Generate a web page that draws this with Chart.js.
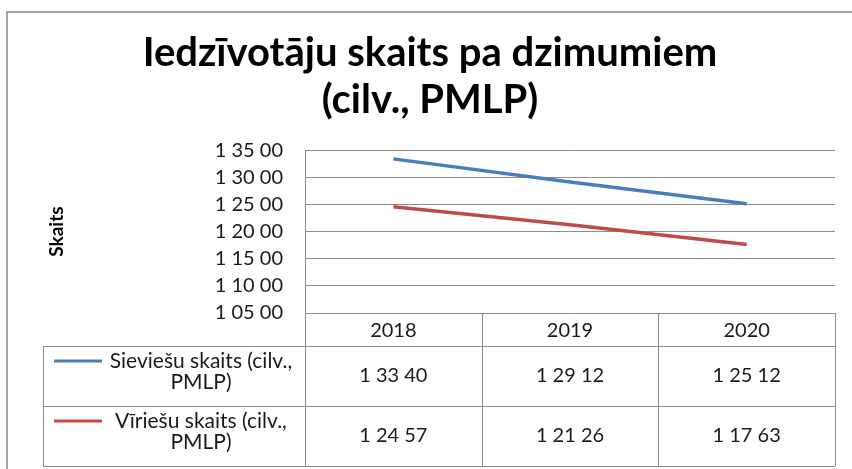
<!DOCTYPE html>
<html>
<head>
<meta charset="utf-8">
<script src="https://cdn.jsdelivr.net/npm/chart.js@4.4.0/dist/chart.umd.min.js"></script>
<style>
    html, body { margin: 0; padding: 0; background: #fff; }
    #wrap { width: 852px; height: 469px; }
</style>
</head>
<body>
<div id="wrap"><canvas id="chart" width="852" height="469"></canvas></div>
<script>
// Dati
const years = ['2018', '2019', '2020'];
const sieviesu = [13340, 12912, 12512];
const viriesu = [12457, 12126, 11763];
const seriesNames = [['Sieviešu skaits (cilv.,', 'PMLP)'], ['Vīriešu skaits (cilv.,', 'PMLP)']];
const seriesColors = ['#4a7ebb', '#be4b48'];
const yTicks = [10500, 11000, 11500, 12000, 12500, 13000, 13500];
const titleLines = ['Iedzīvotāju skaits pa dzimumiem', '(cilv., PMLP)'];
const yTitle = 'Skaits';

const FONT = 'Lato, "Open Sans", sans-serif';
const GRID = '#8c8c8c';

// 13500 -> "1 35 00"
function fmt(v) {
    return String(v).replace(/\B(?=(\d{2})+(?!\d))/g, ' ');
}

// outer frame of the chart object
const framePlugin = {
    id: 'frame',
    beforeDraw(chart) {
        const ctx = chart.ctx;
        ctx.save();
        ctx.strokeStyle = '#868686';
        ctx.lineWidth = 1.5;
        ctx.beginPath();
        ctx.moveTo(7, chart.height);
        ctx.lineTo(7, 12);
        ctx.lineTo(chart.width, 12);
        ctx.stroke();
        ctx.restore();
    }
};

// data table under the plot (Excel style)
const tablePlugin = {
    id: 'dataTable',
    afterDraw(chart) {
        const ctx = chart.ctx;
        const area = chart.chartArea;
        const x = chart.scales.x;
        const colW = x.width / years.length;
        const tableLeft = 43;
        const headerBottom = 346;
        const rowH = 60;
        const tableBottom = headerBottom + rowH * 2;

        ctx.save();
        ctx.strokeStyle = GRID;
        ctx.lineWidth = 1;

        // horizontal lines
        [headerBottom, headerBottom + rowH, tableBottom].forEach(y => {
            ctx.beginPath();
            ctx.moveTo(tableLeft, y + 0.5);
            ctx.lineTo(area.right, y + 0.5);
            ctx.stroke();
        });
        // vertical lines
        ctx.beginPath();
        ctx.moveTo(tableLeft + 0.5, headerBottom);
        ctx.lineTo(tableLeft + 0.5, tableBottom);
        ctx.stroke();
        for (let i = 0; i <= years.length; i++) {
            const px = Math.round(area.left + colW * i) + 0.5;
            ctx.beginPath();
            ctx.moveTo(px, area.bottom);
            ctx.lineTo(px, tableBottom);
            ctx.stroke();
        }

        const series = [sieviesu, viriesu];
        series.forEach((vals, r) => {
            const rowTop = headerBottom + rowH * r;
            const mid = rowTop + rowH / 2;

            // legend key
            ctx.strokeStyle = seriesColors[r];
            ctx.lineWidth = 3;
            ctx.beginPath();
            ctx.moveTo(54, rowTop + 15);
            ctx.lineTo(102, rowTop + 15);
            ctx.stroke();

            ctx.fillStyle = '#1a1a1a';
            ctx.font = '21px ' + FONT;
            ctx.textAlign = 'center';
            ctx.textBaseline = 'alphabetic';
            ctx.fillText(seriesNames[r][0], 201, rowTop + 22);
            ctx.fillText(seriesNames[r][1], 201, rowTop + 43);

            ctx.font = '20px ' + FONT;
            ctx.textBaseline = 'middle';
            vals.forEach((v, i) => {
                ctx.fillText(fmt(v), x.getPixelForValue(i), mid);
            });
        });
        ctx.restore();
    }
};

new Chart(document.getElementById('chart'), {
    type: 'line',
    data: {
        labels: years,
        datasets: [
            { label: seriesNames[0].join(' '), data: sieviesu, borderColor: seriesColors[0], borderWidth: 3.5, pointRadius: 0, tension: 0, fill: false },
            { label: seriesNames[1].join(' '), data: viriesu, borderColor: seriesColors[1], borderWidth: 3.5, pointRadius: 0, tension: 0, fill: false }
        ]
    },
    options: {
        responsive: false,
        animation: false,
        layout: { padding: { left: 25, right: 17, top: 0, bottom: 0 } },
        plugins: {
            legend: { display: false },
            tooltip: { enabled: false },
            title: {
                display: true,
                text: titleLines,
                color: '#000',
                font: { family: FONT, size: 40, weight: 'bold', lineHeight: 1.19 },
                padding: { top: 29, bottom: 26 }
            }
        },
        scales: {
            x: {
                type: 'category',
                offset: true,
                grid: { display: false, drawTicks: false },
                border: { display: false },
                ticks: { color: '#1a1a1a', font: { family: FONT, size: 20 }, padding: 6, maxRotation: 0 },
                afterFit(scale) { scale.height = 156; }
            },
            y: {
                min: yTicks[0],
                max: yTicks[yTicks.length - 1],
                afterBuildTicks(scale) { scale.ticks = yTicks.map(v => ({ value: v })); },
                grid: { color: GRID, drawTicks: false },
                border: { display: true, color: GRID },
                ticks: { color: '#1a1a1a', font: { family: FONT, size: 20 }, padding: 22, callback: v => fmt(v) },
                title: { display: true, text: yTitle, color: '#000', font: { family: FONT, size: 19, weight: 'bold' }, padding: { top: 20, bottom: 0 } },
                afterFit(scale) { scale.width = 280; }
            }
        }
    },
    plugins: [framePlugin, tablePlugin]
});
</script>
</body>
</html>
